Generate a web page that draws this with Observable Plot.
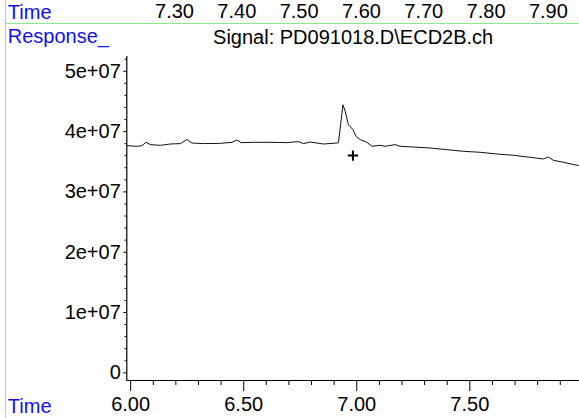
<!DOCTYPE html>
<html>
<head>
<meta charset="utf-8">
<script src="https://cdn.jsdelivr.net/npm/d3@7"></script>
<script src="https://cdn.jsdelivr.net/npm/@observablehq/plot@0.6"></script>
<style>
  html, body { margin: 0; padding: 0; background: #fff; }
  #wrap { position: relative; width: 579px; height: 418px; overflow: hidden; background: #fff; }
  #wrap svg { display: block; }
  .vline { position: absolute; left: 5px; top: 0; width: 1px; height: 418px; background: #8fe88f; }
  .hline { position: absolute; left: 5px; top: 22.5px; width: 574px; height: 1.5px; background: #8fe88f; }
</style>
</head>
<body>
<div id="wrap"><div id="head"></div><div id="main"></div><div class="vline"></div><div class="hline"></div></div>
<script>
// ---- data ----
const times = [5.984, 6.028, 6.050, 6.068, 6.087, 6.131, 6.175, 6.220, 6.249, 6.271, 6.323, 6.396, 6.448, 6.470, 6.488, 6.544, 6.617, 6.691, 6.742, 6.764, 6.794, 6.853, 6.912, 6.919, 6.939, 6.949, 6.963, 6.983, 6.997, 7.015, 7.045, 7.067, 7.103, 7.125, 7.170, 7.192, 7.251, 7.324, 7.398, 7.471, 7.545, 7.619, 7.692, 7.766, 7.825, 7.847, 7.869, 7.913, 7.980];
const responses = [37.67e6, 37.56e6, 37.67e6, 38.22e6, 37.84e6, 37.72e6, 37.94e6, 38.01e6, 38.67e6, 38.10e6, 38.01e6, 38.05e6, 38.22e6, 38.60e6, 38.17e6, 38.22e6, 38.22e6, 38.17e6, 38.34e6, 38.01e6, 38.27e6, 37.94e6, 38.10e6, 38.15e6, 44.45e6, 43.34e6, 41.14e6, 40.32e6, 39.21e6, 38.67e6, 38.22e6, 37.56e6, 37.72e6, 37.56e6, 37.84e6, 37.56e6, 37.44e6, 37.28e6, 37.01e6, 36.73e6, 36.57e6, 36.29e6, 36.07e6, 35.74e6, 35.46e6, 35.79e6, 35.25e6, 34.92e6, 34.37e6];
const markerTime = [6.983];
const markerResponse = [36.02e6];

const xTicks = [6.0, 6.5, 7.0, 7.5];
const xTickLabels = ["6.00", "6.50", "7.00", "7.50"];
const xMinorTicks = [6.1, 6.2, 6.3, 6.4, 6.6, 6.7, 6.8, 6.9, 7.1, 7.2, 7.3, 7.4, 7.6, 7.7, 7.8, 7.9];
const yTicks = [0, 1e7, 2e7, 3e7, 4e7, 5e7];
const yTickLabels = ["0", "1e+07", "2e+07", "3e+07", "4e+07", "5e+07"];
const yMinorTicks = [2e6, 4e6, 6e6, 8e6, 12e6, 14e6, 16e6, 18e6, 22e6, 24e6, 26e6, 28e6, 32e6, 34e6, 36e6, 38e6, 42e6, 44e6, 46e6, 48e6, 52e6];
const headerTicks = [7.3, 7.4, 7.5, 7.6, 7.7, 7.8, 7.9];
const headerTickLabels = ["7.30", "7.40", "7.50", "7.60", "7.70", "7.80", "7.90"];
const title = "Signal: PD091018.D\\ECD2B.ch";
const yLabel = "Response_";
const xLabel = "Time";

const FONT = "'Liberation Sans', Arial, sans-serif";
const series = times.map((t, i) => ({t, v: responses[i]}));
const marker = markerTime.map((t, i) => ({t, v: markerResponse[i]}));

// ---- header strip ----
const head = Plot.plot({
  width: 579, height: 24,
  marginLeft: 0, marginRight: 0, marginTop: 0, marginBottom: 7,
  style: {fontFamily: FONT, fontSize: "20px", background: "transparent", overflow: "visible"},
  x: {domain: [7.0207, 7.950], axis: null},
  y: {axis: null},
  marks: [
    Plot.text(headerTicks, {x: d => d, text: (d, i) => headerTickLabels[i], frameAnchor: "bottom", lineAnchor: "bottom", fill: "black"}),
    Plot.text([xLabel], {frameAnchor: "bottom-left", dx: 7.3, dy: 1.5, lineAnchor: "bottom", textAnchor: "start", fill: "#1010f0"})
  ]
});
document.getElementById("head").appendChild(head);

// ---- main chart ----
const main = Plot.plot({
  width: 579, height: 394,
  marginLeft: 126.3, marginRight: 0, marginTop: 32, marginBottom: 38,
  style: {fontFamily: FONT, fontSize: "20px", background: "transparent", overflow: "visible", color: "black"},
  x: {domain: [5.983, 7.985], label: null},
  y: {domain: [-1.27e6, 52.45e6], label: null},
  marks: [
    Plot.axisY({ticks: yMinorTicks, tickSize: 1.8, text: null, label: null, strokeWidth: 1}),
    Plot.axisY({ticks: yTicks, tickFormat: (d, i) => yTickLabels[i], tickSize: 3, tickPadding: 3, label: null, fontSize: 20}),
    Plot.axisX({ticks: xMinorTicks, tickSize: 5, text: null, label: null}),
    Plot.axisX({ticks: xTicks, tickFormat: (d, i) => xTickLabels[i], tickSize: 11, tickPadding: 5.5, label: null, fontSize: 20}),
    Plot.ruleX([5.983], {stroke: "black", strokeWidth: 1.2}),
    Plot.ruleY([-1.27e6], {stroke: "black", strokeWidth: 1.2}),
    Plot.line(series, {x: "t", y: "v", stroke: "#111", strokeWidth: 1}),
    Plot.dot(marker, {x: "t", y: "v", symbol: "plus", r: 3.4, stroke: "black", strokeWidth: 2}),
    Plot.text([title], {frameAnchor: "top", dy: -13, lineAnchor: "bottom", fill: "black"}),
    Plot.text([yLabel], {frameAnchor: "top-left", dx: -119, dy: -13.3, lineAnchor: "bottom", textAnchor: "start", fill: "#1010f0"}),
    Plot.text([xLabel], {frameAnchor: "bottom-left", dx: -119, dy: 32, lineAnchor: "bottom", textAnchor: "start", fill: "#1010f0"})
  ]
});
document.getElementById("main").appendChild(main);
</script>
</body>
</html>
